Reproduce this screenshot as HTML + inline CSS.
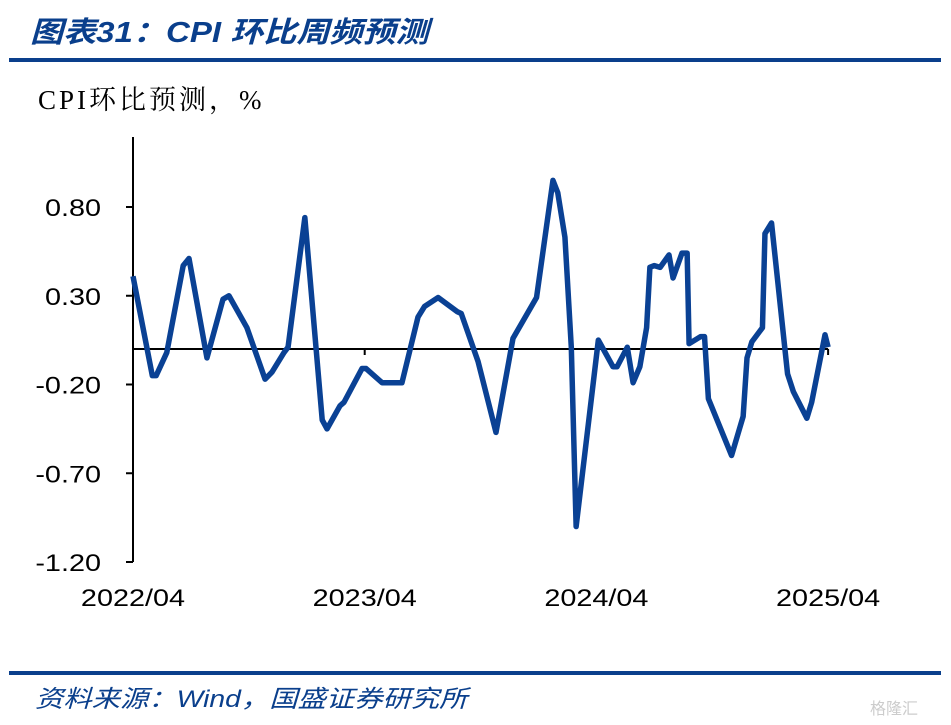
<!DOCTYPE html>
<html><head><meta charset="utf-8"><style>
body{margin:0;background:#fff;width:951px;height:725px;overflow:hidden;position:relative;font-family:"Liberation Sans","Noto Sans CJK SC",sans-serif}
.title{position:absolute;left:30px;top:9px;font-size:29px;font-weight:bold;font-style:italic;color:#0a3f8c;white-space:nowrap;transform-origin:0 0;transform:scaleX(1.14)}
.bar{position:absolute;left:9px;width:932px;height:4px;background:#0a3f8c}
.src{position:absolute;left:35px;top:679px;font-size:24px;font-style:italic;color:#0a3f8c;white-space:nowrap;transform-origin:0 0;transform:scaleX(1.18)}
.wm{position:absolute;left:870px;top:695px;font-size:16px;color:#ccc}
</style></head><body>
<div class="title">图表31：CPI 环比周频预测</div>
<div class="bar" style="top:58px"></div>
<svg width="951" height="725" style="position:absolute;left:0;top:0" id="chart">
<text x="38" y="109" font-family="'Liberation Serif','Noto Serif CJK SC',serif" font-size="27" letter-spacing="3" fill="#000">CPI环比预测，%</text>
<g id="axes"></g>
<polyline id="line" fill="none" stroke="#0a4194" stroke-width="5.5" stroke-linejoin="round"></polyline>
</svg>
<div class="bar" style="top:671px"></div>
<div class="src">资料来源：Wind，国盛证券研究所</div>
<div class="wm">格隆汇</div>
<script>
const months=[0,1,1.2,1.75,2.6,2.9,3.83,4.66,4.97,5.9,6.84,7.2,7.82,8.03,8.9,9.8,10.05,10.72,10.93,11.86,12.07,12.9,13.93,14.76,15.1,15.8,16.8,17.0,17.87,18.8,19.68,20.9,21.75,22.0,22.37,22.7,22.95,23.4,24.1,24.86,25.07,25.6,25.9,26.25,26.6,26.77,27.0,27.3,27.76,27.97,28.43,28.7,28.8,29.4,29.6,29.8,31.0,31.6,31.8,32.05,32.6,32.73,33.07,33.9,34.2,34.9,35.15,35.84,36.0];
const values=[0.41,-0.15,-0.15,-0.02,0.47,0.51,-0.05,0.28,0.30,0.12,-0.17,-0.13,-0.02,0.01,0.74,-0.40,-0.45,-0.32,-0.30,-0.11,-0.11,-0.19,-0.19,0.18,0.24,0.29,0.21,0.20,-0.07,-0.47,0.06,0.29,0.95,0.88,0.63,0.01,-1.00,-0.59,0.05,-0.10,-0.10,0.01,-0.19,-0.10,0.12,0.46,0.47,0.46,0.53,0.40,0.54,0.54,0.03,0.07,0.07,-0.28,-0.60,-0.38,-0.05,0.04,0.12,0.65,0.71,-0.14,-0.24,-0.39,-0.30,0.08,0.01];
const yTicks=[0.80,0.30,-0.20,-0.70,-1.20];
const xTickMonths=[0,12,24,36];
const xTickLabels=["2022/04","2023/04","2024/04","2025/04"];
const X0=133,XM=231.7/12,Y0=349,YS=177.5;
const sx=m=>X0+m*XM, sy=v=>Y0-v*YS;
const ns="http://www.w3.org/2000/svg", ax=document.getElementById('axes');
function mk(t,a){const e=document.createElementNS(ns,t);for(const k in a)e.setAttribute(k,a[k]);ax.appendChild(e);return e;}
function widen(el){const w=el.getComputedTextLength();el.setAttribute('textLength',w*1.2);el.setAttribute('lengthAdjust','spacingAndGlyphs');}
let e=mk('line',{x1:X0,y1:137,x2:X0,y2:562,stroke:'#000','stroke-width':2});


yTicks.forEach(v=>{
 let t=mk('line',{x1:X0-7,y1:sy(v),x2:X0,y2:sy(v),stroke:'#000','stroke-width':2});
 
 
 let l=mk('text',{x:X0-32,y:sy(v)+9,'text-anchor':'end','font-size':24,fill:'#000'});
 l.textContent=v.toFixed(2);
 
 
 const w=l.getComputedTextLength();l.setAttribute('text-anchor','start');l.setAttribute('x',X0-32-w*1.2);widen(l);
});
e=mk('line',{x1:X0,y1:Y0,x2:sx(36),y2:Y0,stroke:'#000','stroke-width':2});


xTickMonths.forEach((m,i)=>{
 if(m>0){let t=mk('line',{x1:sx(m),y1:Y0,x2:sx(m),y2:Y0+6,stroke:'#000','stroke-width':2});
 
 }
 let l=mk('text',{x:sx(m),y:606,'font-size':24,fill:'#000'});
 l.textContent=xTickLabels[i];
 
 
 const w=l.getComputedTextLength()*1.2;l.setAttribute('x',sx(m)-w/2);widen(l);
});
document.getElementById('line').setAttribute('points',months.map((m,i)=>sx(m)+','+sy(values[i])).join(' '));
</script>
</body></html>
